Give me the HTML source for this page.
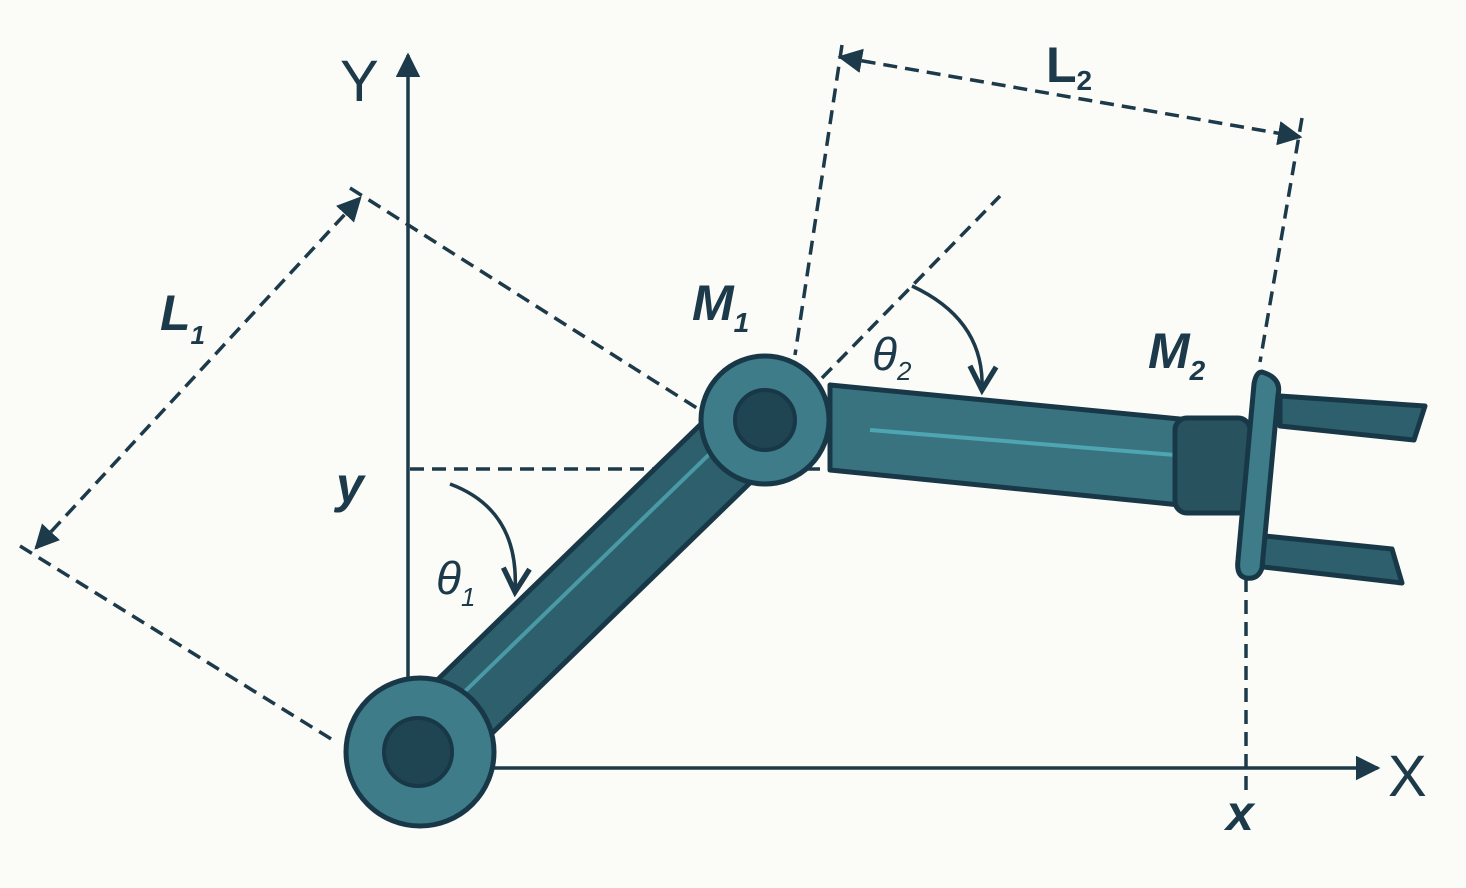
<!DOCTYPE html>
<html><head><meta charset="utf-8"><style>
html,body{margin:0;padding:0;background:#fbfbf7;}
svg{display:block;}
text{font-family:"Liberation Sans",sans-serif;fill:#1c3a4a;}
</style></head><body>
<svg width="1466" height="888" viewBox="0 0 1466 888">
<rect width="1466" height="888" fill="#fbfbf7"/>
<defs>
<marker id="ah" viewBox="0 0 10 10" refX="9" refY="5" markerWidth="7" markerHeight="7" orient="auto-start-reverse"><path d="M0,0 L10,5 L0,10 z" fill="#1c3a4a"/></marker>
<marker id="ao" viewBox="0 0 12 12" refX="10" refY="6" markerWidth="9" markerHeight="9" orient="auto"><path d="M1,1 L10,6 L1,11" fill="none" stroke="#1c3a4a" stroke-width="2"/></marker>
</defs>
<g stroke="#1c3a4a" stroke-width="3.5" fill="none" stroke-dasharray="14 8">
<line x1="410" y1="469" x2="1200" y2="469"/>
<line x1="1246" y1="578" x2="1246" y2="790"/>
<line x1="36" y1="548" x2="360" y2="198" marker-start="url(#ah)" marker-end="url(#ah)"/>
<line x1="350" y1="188" x2="700" y2="410"/>
<line x1="20" y1="546" x2="336" y2="742"/>
<line x1="840" y1="57" x2="1300" y2="137" marker-start="url(#ah)" marker-end="url(#ah)"/>
<line x1="842" y1="45" x2="795" y2="355"/>
<line x1="1302" y1="118" x2="1260" y2="362"/>
<line x1="822" y1="378" x2="1000" y2="196"/>
</g>
<g stroke="#1c3a4a" stroke-width="3.5" fill="none">
<line x1="408" y1="680" x2="408" y2="55" marker-end="url(#ah)"/>
<line x1="480" y1="768" x2="1378" y2="768" marker-end="url(#ah)"/>
<path d="M450,484 Q520,510 515,592" marker-end="url(#ao)"/>
<path d="M912,286 Q985,320 982,390" marker-end="url(#ao)"/>
</g>
<g stroke="#183848" stroke-width="5" stroke-linejoin="round">
<polygon points="393,723 447,777 787,447 733,393" fill="#2d5f6c"/>
<line x1="420" y1="735" x2="760" y2="405" stroke="#4a9aa6" stroke-width="4"/>
<polygon points="830,385 1190,420 1180,505 830,470" fill="#3a7380"/>
<line x1="870" y1="430" x2="1175" y2="455" stroke="#4ea6b2" stroke-width="4"/>
<rect x="1175" y="418" width="75" height="95" rx="12" fill="#27525e"/>
<polygon points="1280,396 1425,406 1414,440 1280,426" fill="#2d5f6c"/>
<polygon points="1255,535 1392,549 1402,583 1255,566" fill="#2d5f6c"/>
<path d="M1262,372 Q1282,378 1278,395 L1262,568 Q1258,580 1246,578 Q1236,576 1238,560 L1254,384 Q1256,372 1262,372 z" fill="#3d7c88"/>
<circle cx="765" cy="420" r="64" fill="#3d7c88"/>
<circle cx="765" cy="420" r="30" fill="#1f4452" stroke-width="4"/>
<circle cx="420" cy="752" r="74" fill="#3d7c88"/>
<circle cx="418" cy="752" r="34" fill="#1f4452" stroke-width="4"/>
</g>
<text x="340" y="101" font-size="58">Y</text>
<text x="1388" y="796" font-size="58">X</text>
<text x="336" y="502" font-size="50" font-style="italic" font-weight="bold">y</text>
<text x="1226" y="830" font-size="50" font-style="italic" font-weight="bold">x</text>
<text x="160" y="330" font-size="50" font-style="italic" font-weight="bold">L<tspan font-size="26" dy="14">1</tspan></text>
<text x="1046" y="82" font-size="50" font-weight="bold">L<tspan font-size="28" dy="8">2</tspan></text>
<text x="692" y="320" font-size="50" font-style="italic" font-weight="bold">M<tspan font-size="28" dy="12">1</tspan></text>
<text x="1148" y="368" font-size="50" font-style="italic" font-weight="bold">M<tspan font-size="28" dy="12">2</tspan></text>
<text x="436" y="594" font-size="46" font-style="italic">θ<tspan font-size="26" dy="12">1</tspan></text>
<text x="872" y="370" font-size="46" font-style="italic">θ<tspan font-size="26" dy="10">2</tspan></text>
</svg>
</body></html>
